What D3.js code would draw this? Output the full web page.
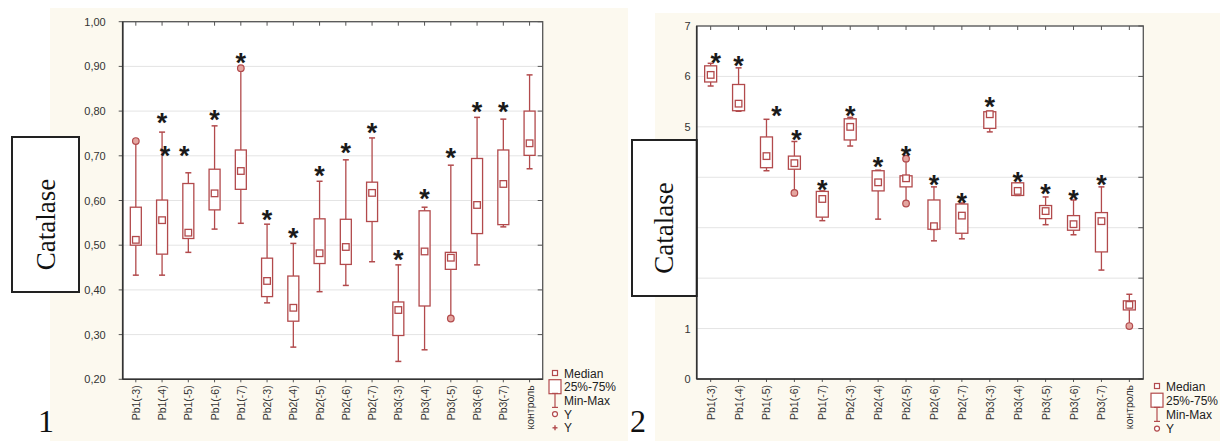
<!DOCTYPE html>
<html><head><meta charset="utf-8">
<script src="https://cdn.jsdelivr.net/npm/d3@7"></script>
<style>
body{margin:0;background:#fff;}
svg{display:block;font-family:"Liberation Sans",Arial,sans-serif;}
</style>
</head><body>
<svg id="c" width="1220" height="441"></svg>
<script>
const categories = ["Pb1(-3)","Pb1(-4)","Pb1(-5)","Pb1(-6)","Pb1(-7)","Pb2(-3)","Pb2(-4)","Pb2(-5)","Pb2(-6)","Pb2(-7)","Pb3(-3)","Pb3(-4)","Pb3(-5)","Pb3(-6)","Pb3(-7)","контроль"];

// Chart 1
const c1Min    = [0.433,0.433,0.484,0.536,0.549,0.371,0.272,0.396,0.410,0.463,0.240,0.266,0.336,0.456,0.541,0.671];
const c1Q1     = [0.500,0.480,0.515,0.579,0.625,0.385,0.330,0.459,0.457,0.553,0.298,0.364,0.446,0.526,0.546,0.701];
const c1Median = [0.512,0.556,0.528,0.616,0.666,0.420,0.360,0.482,0.496,0.617,0.355,0.486,0.472,0.590,0.637,0.728];
const c1Q3     = [0.585,0.601,0.638,0.670,0.713,0.471,0.431,0.559,0.558,0.641,0.373,0.577,0.484,0.694,0.713,0.800];
const c1Max    = [0.733,0.753,0.662,0.767,0.896,0.547,0.504,0.643,0.691,0.740,0.456,0.585,0.679,0.786,0.782,0.881];
const c1Outliers = [["Pb1(-3)",0.733],["Pb1(-7)",0.896],["Pb3(-5)",0.336]];
const c1Stars = [["Pb1(-4)",0.779],["Pb1(-4)",0.706],["Pb1(-5)",0.706],["Pb1(-6)",0.787],["Pb1(-7)",0.914],
  ["Pb2(-3)",0.564],["Pb2(-4)",0.523],["Pb2(-5)",0.662],["Pb2(-6)",0.714],["Pb2(-7)",0.758],
  ["Pb3(-3)",0.474],["Pb3(-4)",0.609],["Pb3(-5)",0.701],["Pb3(-6)",0.804],["Pb3(-7)",0.804]];
const c1Ticks = [0.2,0.3,0.4,0.5,0.6,0.7,0.8,0.9,1.0];
const c1TickLabels = ["0,20","0,30","0,40","0,50","0,60","0,70","0,80","0,90","1,00"];

// Chart 2
const c2Min    = [5.81,5.31,4.13,3.69,3.14,4.62,3.17,3.48,2.74,2.78,4.90,3.64,3.06,2.86,2.16,1.05];
const c2Q1     = [5.89,5.32,4.19,4.16,3.21,4.74,3.73,3.81,2.97,2.89,4.97,3.64,3.18,2.95,2.52,1.37];
const c2Median = [6.03,5.46,4.42,4.28,3.57,5.00,3.90,3.98,3.03,3.24,5.25,3.73,3.33,3.07,3.13,1.47];
const c2Q3     = [6.21,5.84,4.80,4.42,3.72,5.16,4.13,4.03,3.55,3.47,5.30,3.89,3.44,3.24,3.30,1.55];
const c2Max    = [6.26,6.17,5.15,4.71,3.73,5.19,4.14,4.37,3.81,3.49,5.31,3.89,3.61,3.55,3.81,1.68];
const c2Outliers = [["Pb1(-6)",3.69],["Pb2(-5)",4.37],["Pb2(-5)",3.48],["контроль",1.05]];
const c2Stars = [["Pb1(-3)",6.33],["Pb1(-4)",6.26],["Pb1(-5)",5.27],["Pb1(-6)",4.80],["Pb1(-7)",3.80],
  ["Pb2(-3)",5.27],["Pb2(-4)",4.26],["Pb2(-5)",4.48],["Pb2(-6)",3.91],["Pb2(-7)",3.55],
  ["Pb3(-3)",5.45],["Pb3(-4)",3.97],["Pb3(-5)",3.73],["Pb3(-6)",3.60],["Pb3(-7)",3.91]];
const c2Ticks = [0,1,2,3,4,5,6,7];
const c2TickLabels = ["0","1","2","3","4","5","6","7"];

const legendLabels1 = ["Median","25%-75%","Min-Max","Y","Y"];
const legendLabels2 = ["Median","25%-75%","Min-Max","Y"];

const svg = d3.select("#c");
const BOX = "#b24a4c";
const BEIGE = "#fcf9ef";

// panels background
svg.append("rect").attr("x",50).attr("y",8).attr("width",578).attr("height",433).attr("fill",BEIGE);
svg.append("rect").attr("x",655).attr("y",13).attr("width",565).attr("height",428).attr("fill",BEIGE);

function drawChart(o){
  const g = svg.append("g");
  const x = d3.scaleBand().domain(categories).range([o.left,o.right]).padding(0);
  const y = d3.scaleLinear().domain(o.domain).range([o.bottom,o.top]);
  const cx = c => x(c) + x.bandwidth()/2;
  g.append("rect").attr("x",o.left).attr("y",o.top).attr("width",o.right-o.left).attr("height",o.bottom-o.top).attr("fill","#fff");
  // grid
  g.selectAll(".grid").data(o.ticks).enter().append("line")
    .attr("x1",o.left).attr("x2",o.right).attr("y1",d=>y(d)).attr("y2",d=>y(d))
    .attr("stroke","#e4e4e4").attr("stroke-width",1);
  // top / bottom category ticks
  categories.forEach(c=>{
    g.append("line").attr("x1",cx(c)).attr("x2",cx(c)).attr("y1",o.top).attr("y2",o.top+4).attr("stroke","#555");
    g.append("line").attr("x1",cx(c)).attr("x2",cx(c)).attr("y1",o.bottom).attr("y2",o.bottom+3).attr("stroke","#555");
  });
  // right inward ticks
  o.ticks.forEach(t=>{
    g.append("line").attr("x1",o.right-5).attr("x2",o.right).attr("y1",y(t)).attr("y2",y(t)).attr("stroke","#555");
    if(o.leftTicks) g.append("line").attr("x1",o.left-4).attr("x2",o.left).attr("y1",y(t)).attr("y2",y(t)).attr("stroke","#555");
  });
  // frame
  g.append("rect").attr("x",o.left).attr("y",o.top).attr("width",o.right-o.left).attr("height",o.bottom-o.top)
    .attr("fill","none").attr("stroke","#555").attr("stroke-width",1.3);
  g.append("line").attr("x1",o.left).attr("x2",o.left).attr("y1",o.top).attr("y2",o.bottom).attr("stroke","#333").attr("stroke-width",1.6);
  g.append("line").attr("x1",o.left).attr("x2",o.right).attr("y1",o.bottom).attr("y2",o.bottom).attr("stroke","#333").attr("stroke-width",1.6);

  // y labels
  g.selectAll(".yl").data(o.ticks).enter().append("text")
    .attr("x",o.left-o.labelGap).attr("y",d=>y(d)+4).attr("text-anchor","end")
    .attr("font-size",11).attr("fill","#333").text((d,i)=>o.tickLabels[i]);
  // x labels
  categories.forEach(c=>{
    g.append("text").attr("transform",`translate(${cx(c)+4},${o.bottom+6}) rotate(-90)`)
      .attr("text-anchor","end").attr("font-size",10.5).attr("fill","#333").text(c);
  });

  // boxes
  const bw = o.boxW;
  categories.forEach((c,i)=>{
    const xc = cx(c);
    g.append("line").attr("x1",xc).attr("x2",xc).attr("y1",y(o.max[i])).attr("y2",y(o.q3[i])).attr("stroke",BOX).attr("stroke-width",1.3);
    g.append("line").attr("x1",xc).attr("x2",xc).attr("y1",y(o.q1[i])).attr("y2",y(o.min[i])).attr("stroke",BOX).attr("stroke-width",1.3);
    g.append("line").attr("x1",xc-3).attr("x2",xc+3).attr("y1",y(o.max[i])).attr("y2",y(o.max[i])).attr("stroke",BOX).attr("stroke-width",1.5);
    g.append("line").attr("x1",xc-3).attr("x2",xc+3).attr("y1",y(o.min[i])).attr("y2",y(o.min[i])).attr("stroke",BOX).attr("stroke-width",1.5);
    g.append("rect").attr("x",xc-bw/2).attr("y",y(o.q3[i])).attr("width",bw).attr("height",Math.max(1,y(o.q1[i])-y(o.q3[i])))
      .attr("fill","#fff").attr("stroke",BOX).attr("stroke-width",1.3);
    g.append("rect").attr("x",xc-3.3).attr("y",y(o.med[i])-3.3).attr("width",6.6).attr("height",6.6)
      .attr("fill","#fff").attr("stroke",BOX).attr("stroke-width",1.3);
  });
  o.outliers.forEach(([c,v])=>{
    g.append("circle").attr("cx",cx(c)).attr("cy",y(v)).attr("r",3.3).attr("fill","#e4a6a0").attr("stroke",BOX).attr("stroke-width",1.2);
  });
  o.stars.forEach(([c,v],k)=>{
    const dx = (o.nudge[k]||0);
    g.append("text").attr("x",cx(c)+dx).attr("y",y(v)+12).attr("text-anchor","middle")
      .attr("font-size",27).attr("font-weight","bold").attr("fill","#1a1a1a").text("*");
  });

  // legend
  const lg = g.append("g");
  o.legend.forEach((t,i)=>{
    const ly = o.legY + i*o.legStep;
    const mx = o.legX;
    if(i===0) lg.append("rect").attr("x",mx-2.5).attr("y",ly-2.5).attr("width",5).attr("height",5).attr("fill","#fff").attr("stroke",BOX).attr("stroke-width",1.2);
    if(i===1) lg.append("rect").attr("x",mx-6).attr("y",ly-7).attr("width",12).attr("height",14).attr("fill","#fff").attr("stroke",BOX).attr("stroke-width",1.2);
    if(i===2){
      lg.append("line").attr("x1",mx).attr("x2",mx).attr("y1",ly-7).attr("y2",ly+7).attr("stroke",BOX).attr("stroke-width",1.2);
      lg.append("line").attr("x1",mx-3).attr("x2",mx+3).attr("y1",ly-7).attr("y2",ly-7).attr("stroke",BOX).attr("stroke-width",1.2);
      lg.append("line").attr("x1",mx-3).attr("x2",mx+3).attr("y1",ly+7).attr("y2",ly+7).attr("stroke",BOX).attr("stroke-width",1.2);
    }
    if(i===3) lg.append("circle").attr("cx",mx).attr("cy",ly).attr("r",2.5).attr("fill","#fff").attr("stroke",BOX).attr("stroke-width",1.2);
    if(i===4){
      lg.append("line").attr("x1",mx-2.5).attr("x2",mx+2.5).attr("y1",ly).attr("y2",ly).attr("stroke",BOX).attr("stroke-width",1.4);
      lg.append("line").attr("x1",mx).attr("x2",mx).attr("y1",ly-2.5).attr("y2",ly+2.5).attr("stroke",BOX).attr("stroke-width",1.4);
    }
    lg.append("text").attr("x",mx+9).attr("y",ly+4.5).attr("font-size",12).attr("fill","#222").text(t);
  });

  // Catalase label box
  svg.append("rect").attr("x",o.cbox[0]).attr("y",o.cbox[1]).attr("width",o.cbox[2]).attr("height",o.cbox[3])
    .attr("fill","#fff").attr("stroke","#222").attr("stroke-width",2);
  svg.append("text").attr("transform",`translate(${o.cbox[0]+o.cbox[2]/2+9},${o.cbox[1]+o.cbox[3]/2+10}) rotate(-90)`)
    .attr("text-anchor","middle").attr("font-family","'Liberation Serif','Times New Roman',serif")
    .attr("font-size",27).attr("fill","#111").text("Catalase");
  svg.append("text").attr("x",o.num[0]).attr("y",o.num[1]).attr("font-family","'Liberation Serif','Times New Roman',serif")
    .attr("font-size",32).attr("fill","#111").text(o.num[2]);
}

drawChart({left:122.7,right:542.7,top:21.7,bottom:379.3,domain:[0.2,1.0],ticks:c1Ticks,tickLabels:c1TickLabels,
  labelGap:17,leftTicks:true,boxW:11,
  min:c1Min,q1:c1Q1,med:c1Median,q3:c1Q3,max:c1Max,outliers:c1Outliers,stars:c1Stars,
  nudge:{1:3,2:-4},
  legend:legendLabels1,legX:555,legY:373,legStep:13.7,
  cbox:[12,137,67,155],num:[38,432,"1"]});

drawChart({left:696.7,right:1143.3,top:26,bottom:379,domain:[0,7],ticks:c2Ticks,tickLabels:c2TickLabels,
  labelGap:6,leftTicks:false,boxW:12,
  min:c2Min,q1:c2Q1,med:c2Median,q3:c2Q3,max:c2Max,outliers:c2Outliers,stars:c2Stars,
  nudge:{0:5,2:10,3:2},
  legend:legendLabels2,legX:1157,legY:386,legStep:14.2,
  cbox:[632,140,64.7,156],num:[630,432,"2"]});
</script>
</body></html>
